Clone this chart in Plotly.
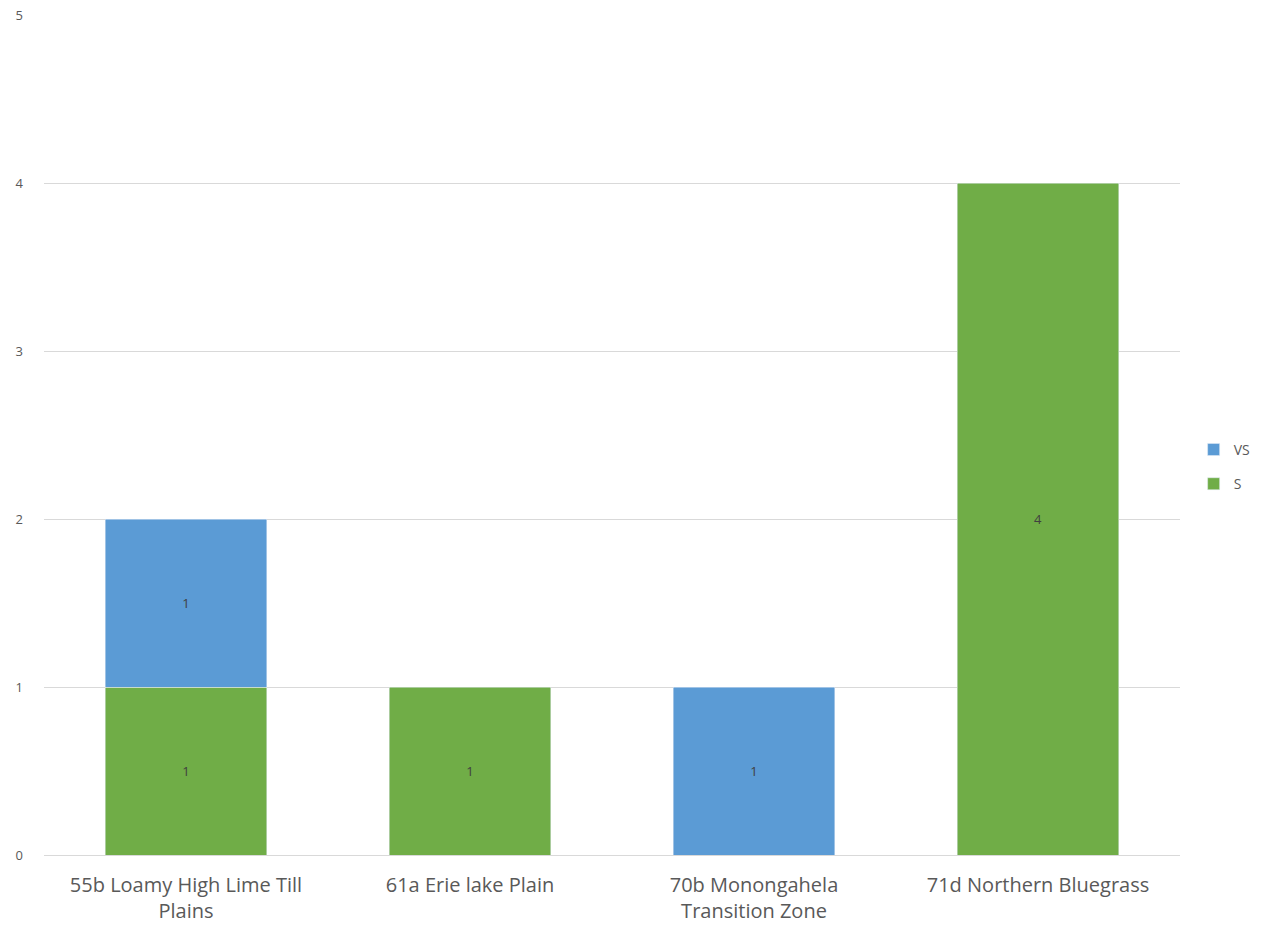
import plotly.graph_objects as go

categories = [
    "55b Loamy High Lime Till<br>Plains",
    "61a Erie lake Plain",
    "70b Monongahela<br>Transition Zone",
    "71d Northern Bluegrass",
]
s_values = [1, 1, None, 4]
vs_values = [1, None, 1, None]

base_font = "Open Sans, Lato, sans-serif"
label_font = dict(family=base_font, size=13, color="#404040")

fig = go.Figure()
fig.add_trace(go.Bar(
    name="S", x=categories, y=s_values, marker_color="#70AD47",
    text=s_values, textposition="inside", insidetextanchor="middle",
    textfont=label_font, legendgroup="s", legendrank=2, width=0.57,
))
fig.add_trace(go.Bar(
    name="VS", x=categories, y=vs_values, marker_color="#5B9BD5",
    text=vs_values, textposition="inside", insidetextanchor="middle",
    textfont=label_font, legendgroup="vs", legendrank=1, width=0.57,
))

fig.update_layout(
    barmode="stack",
    width=1261, height=930,
    margin=dict(l=44, r=81, t=15, b=75, autoexpand=False),
    paper_bgcolor="white", plot_bgcolor="white",
    font=dict(family=base_font, size=16, color="#595959"),
    showlegend=True,
    legend=dict(
        x=1.012, y=0.462, xanchor="left", yanchor="middle",
        traceorder="grouped", tracegroupgap=13,
        font=dict(size=14, color="#595959"),
        itemwidth=30,
    ),
    uniformtext=dict(mode="show", minsize=13),
)
fig.update_yaxes(
    range=[0, 5], dtick=1, showgrid=True, gridcolor="#d9d9d9", gridwidth=1,
    zeroline=True, zerolinecolor="#d9d9d9", zerolinewidth=1,
    tickfont=dict(size=13, color="#595959"), ticklabelstandoff=20,
    showline=False,
)
fig.update_xaxes(
    showgrid=False, showline=False, ticks="",
    tickfont=dict(size=20, color="#595959"), ticklabelstandoff=16,
)

fig.write_html("out.html")
